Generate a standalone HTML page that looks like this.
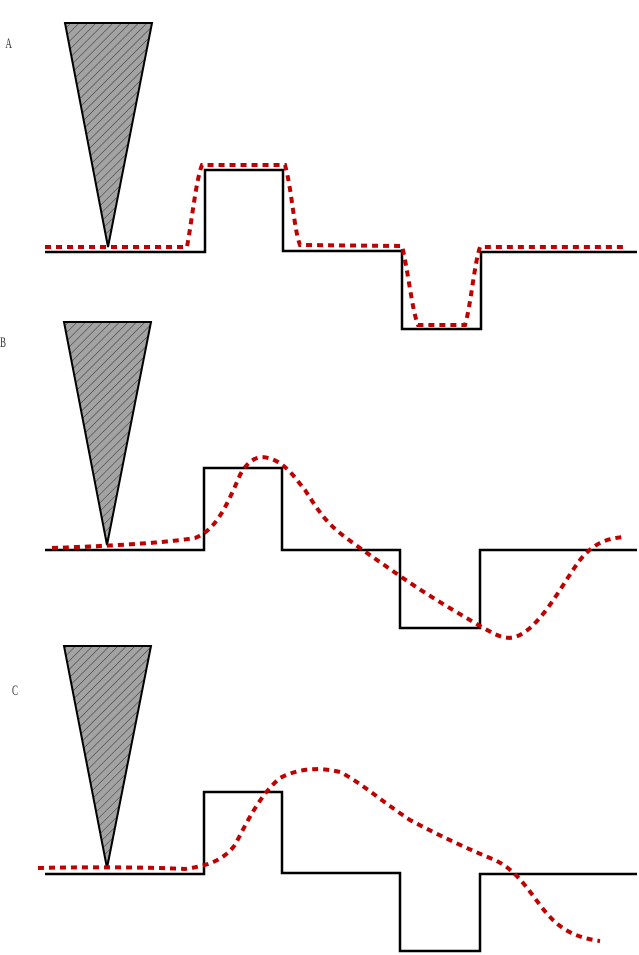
<!DOCTYPE html>
<html><head><meta charset="utf-8"><style>html,body{margin:0;padding:0;background:#fff}svg{display:block}</style></head>
<body>
<svg width="639" height="955" viewBox="0 0 639 955" xmlns="http://www.w3.org/2000/svg">
<defs>
<pattern id="h" patternUnits="userSpaceOnUse" width="6" height="6" patternTransform="rotate(45)">
<rect width="6" height="6" fill="#a3a3a3"/>
<line x1="0" y1="0" x2="0" y2="6" stroke="#000" stroke-width="0.7"/>
</pattern>
</defs>
<g font-family="Liberation Serif, serif" font-size="15" fill="#333">
<text x="9" y="48" transform="scale(0.6,1)">A</text>
<text x="0" y="347" transform="scale(0.6,1)">B</text>
<text x="20" y="695" transform="scale(0.6,1)">C</text>
</g>
<g stroke="#000" stroke-width="2" fill="url(#h)">
<polygon points="65,23 152,23 108,247"/>
<polygon points="64,322 151,322 107,545"/>
<polygon points="64,646 151,646 107,868"/>
</g>
<g stroke="#000" stroke-width="2.5" fill="none">
<polyline points="45,252 205,252 205,170 283,170 283,251 402,251 402,329 481,329 481,252 637,252"/>
<polyline points="45,550 204,550 204,468 282,468 282,550 400,550 400,628 480,628 480,550 637,550"/>
<polyline points="45,874 204,874 204,792 282,792 282,873 400,873 400,951 480,951 480,874 637,874"/>
</g>
<g stroke="#c00000" stroke-width="4" fill="none" stroke-dasharray="6,5">
<path d="M45,247 L187,247 C192,220 196,180 202,165 L285,165 C292,190 294,230 300,245 L402,246 C408,270 412,310 418,325 L465,325 C471,305 474,265 480,247 L627,247"/>
<path d="M52,548 C80,547 160,544 195,538 C215,530 225,510 240,475 C248,460 258,455 268,458 C285,462 295,478 305,490 C318,510 325,522 345,537 C365,552 380,562 400,576 C430,597 460,614 480,626 C500,637 510,645 530,628 C550,610 565,580 580,560 C592,545 605,538 625,537"/>
<path d="M38,868 C80,867 150,867 185,869 C205,866 222,862 235,845 C248,820 260,795 280,778 C295,770 315,766 340,772 C360,782 380,800 410,820 C440,836 470,850 495,860 C515,870 525,885 540,905 C555,925 570,937 600,941"/>
</g>
</svg>
</body></html>
